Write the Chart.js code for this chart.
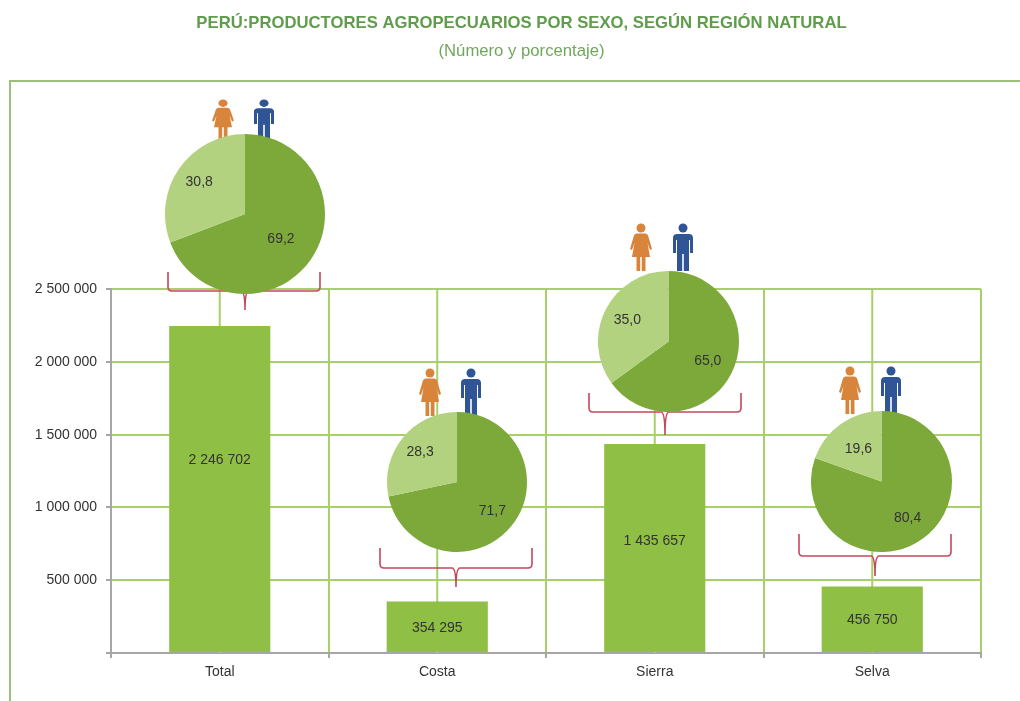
<!DOCTYPE html>
<html lang="es">
<head>
<meta charset="utf-8">
<title>Productores agropecuarios</title>
<script src="https://cdn.jsdelivr.net/npm/chart.js@4/dist/chart.umd.min.js"></script>
<style>
  html, body { margin: 0; padding: 0; background: #fff; overflow: hidden; }
  #page { position: relative; width: 1020px; height: 701px; }
  #frame { position: absolute; left: 9px; top: 80px; right: 0; bottom: 0;
           border-left: 2px solid #9cc07a; border-top: 2px solid #9cc07a; }
  #main { position: absolute; left: 0; top: 0; }
  #overlay { position: absolute; left: 0; top: 0; }
  .pie { position: absolute; }
</style>
</head>
<body>
<div id="page">
  <div id="frame"></div>
  <canvas id="main" width="1020" height="701"></canvas>
  <svg id="overlay" width="1020" height="701" viewBox="0 0 1020 701">
    <defs>
      <symbol id="woman" viewBox="0 0 24 48" preserveAspectRatio="none">
        <circle cx="12" cy="5" r="4.500" fill="#d9843b"/>
        <path d="M8 10.500H16C18 10.500 19 12 19.500 14L23 26L21 27L18.500 20L21 34H16.500V48H12.800V34H11.200V48H7.500V34H3L5.500 20L3 27L1 26L4.500 14C5 12 6 10.500 8 10.500Z" fill="#d9843b"/>
      </symbol>
      <symbol id="man" viewBox="0 0 20 48" preserveAspectRatio="none">
        <circle cx="10" cy="5" r="4.500" fill="#2f5597"/>
        <path d="M4 11H16C18.500 11 20 12.500 20 15V30H17V17H16V48H10.800V31H9.200V48H4V17H3V30H0V15C0 12.500 1.500 11 4 11Z" fill="#2f5597"/>
      </symbol>
    </defs>
  </svg>
</div>
<script>
const categories = ['Total', 'Costa', 'Sierra', 'Selva'];
const productores = [2246702, 354295, 1435657, 456750];
const hombres = [69.2, 71.7, 65.0, 80.4];
const mujeres = [30.8, 28.3, 35.0, 19.6];

const fontName = '"Liberation Sans", Arial, sans-serif';
const gridGreen = '#a8d06a';
const axisGrey = '#a6a6a6';

// where the pies, brackets and figures sit on the page
const pieSpots = [
  { cx: 245, cy: 214, r: 80, labelAt: [0.546, 0.695] },
  { cx: 457, cy: 482, r: 70, labelAt: [0.65, 0.68] },
  { cx: 668, cy: 341, r: 70.5, labelAt: [0.625, 0.655] },
  { cx: 881, cy: 481, r: 70.5, labelAt: [0.64, 0.566] },
];
const braces = [
  { x1: 168, x2: 320, top: 272, mid: 291, tip: 310, center: 245 },
  { x1: 380, x2: 532, top: 548, mid: 568, tip: 587, center: 456 },
  { x1: 589, x2: 741, top: 393, mid: 412, tip: 435, center: 665 },
  { x1: 799, x2: 951, top: 534, mid: 556, tip: 576, center: 875 },
];
const figures = [
  { woman: 223, man: 264, top: 99, h: 40 },
  { woman: 430, man: 471, top: 368, h: 48 },
  { woman: 641, man: 683, top: 223, h: 48 },
  { woman: 850, man: 891, top: 366, h: 48 },
];
// height of the text inside each bar, as a share of the bar
const barLabelAt = [0.59, 0.485, 0.536, 0.495];

function spaced(n) {
  return String(n).replace(/\B(?=(\d{3})+$)/g, ' ');
}

// lines through the middle of each category, behind the bars
const centerLines = {
  id: 'centerLines',
  beforeDatasetsDraw(chart) {
    const { ctx, chartArea, scales } = chart;
    ctx.save();
    ctx.strokeStyle = gridGreen;
    ctx.lineWidth = 2;
    categories.forEach((c, i) => {
      const x = scales.x.getPixelForValue(i);
      ctx.beginPath();
      ctx.moveTo(x, chartArea.top);
      ctx.lineTo(x, chartArea.bottom);
      ctx.stroke();
    });
    ctx.restore();
  },
};

// value inside each bar
const barLabels = {
  id: 'barLabels',
  afterDatasetsDraw(chart) {
    const { ctx, scales } = chart;
    ctx.save();
    ctx.font = '14px ' + fontName;
    ctx.fillStyle = '#333';
    ctx.textAlign = 'center';
    ctx.textBaseline = 'middle';
    productores.forEach((v, i) => {
      ctx.fillText(spaced(v), scales.x.getPixelForValue(i), scales.y.getPixelForValue(v * barLabelAt[i]));
    });
    ctx.restore();
  },
};

// the heading is centred a little right of the canvas middle
const shiftHeading = {
  id: 'shiftHeading',
  afterLayout(chart) {
    chart.boxes.forEach(b => {
      if (b.options && b.options.text !== undefined) {
        b.left += 31;
        b.right += 31;
      }
    });
  },
};

new Chart(document.getElementById('main'), {
  type: 'bar',
  data: {
    labels: categories,
    datasets: [{
      label: 'Productores',
      data: productores,
      backgroundColor: '#8fbf44',
      categoryPercentage: 1,
      barPercentage: 0.465,
    }],
  },
  options: {
    responsive: false,
    animation: false,
    layout: { padding: { left: 0, right: 39, top: 0, bottom: 0 } },
    plugins: {
      legend: { display: false },
      tooltip: { enabled: false },
      title: {
        display: true,
        text: 'PERÚ:PRODUCTORES AGROPECUARIOS POR SEXO, SEGÚN REGIÓN NATURAL',
        color: '#5f9c4b',
        font: { family: fontName, size: 16.7, weight: 'bold' },
        padding: { top: 13, bottom: 0 },
      },
      subtitle: {
        display: true,
        text: '(Número y porcentaje)',
        color: '#6fa85a',
        font: { family: fontName, size: 16.7 },
        padding: { top: 8, bottom: 228 },
      },
    },
    scales: {
      x: {
        afterFit(s) { s.height = 48; },
        grid: { color: gridGreen, lineWidth: 2, tickColor: axisGrey, tickLength: 5, offset: true },
        border: { color: axisGrey, width: 2 },
        ticks: { color: '#333', font: { family: fontName, size: 14 }, padding: 6, maxRotation: 0 },
      },
      y: {
        min: 0,
        max: 2500000,
        afterFit(s) { s.width = 111; },
        grid: { color: gridGreen, lineWidth: 2, tickColor: axisGrey, tickLength: 5 },
        border: { color: axisGrey, width: 2 },
        ticks: {
          stepSize: 500000,
          color: '#333',
          font: { family: fontName, size: 14 },
          padding: 9,
          callback: v => (v === 0 ? '' : spaced(v)),
        },
      },
    },
  },
  plugins: [centerLines, barLabels, shiftHeading],
});

// brackets and figures
const overlay = document.getElementById('overlay');
const svgNS = 'http://www.w3.org/2000/svg';
braces.forEach(b => {
  const p = document.createElementNS(svgNS, 'path');
  p.setAttribute('d', `M${b.x1} ${b.top}V${b.mid - 4}Q${b.x1} ${b.mid} ${b.x1 + 4} ${b.mid}H${b.center - 4}` +
    `Q${b.center} ${b.mid} ${b.center} ${b.tip}Q${b.center} ${b.mid} ${b.center + 4} ${b.mid}H${b.x2 - 4}Q${b.x2} ${b.mid} ${b.x2} ${b.mid - 4}V${b.top}`);
  p.setAttribute('fill', 'none');
  p.setAttribute('stroke', '#c4485c');
  p.setAttribute('stroke-width', '1.600');
  overlay.appendChild(p);
});
figures.forEach(f => {
  [['woman', f.woman, 24], ['man', f.man, 20]].forEach(([name, x, w]) => {
    const u = document.createElementNS(svgNS, 'use');
    u.setAttribute('href', '#' + name);
    u.setAttribute('x', x - w / 2);
    u.setAttribute('y', f.top);
    u.setAttribute('width', w);
    u.setAttribute('height', f.h);
    overlay.appendChild(u);
  });
});

// percentage text on each pie
const pieLabels = {
  id: 'pieLabels',
  afterDatasetsDraw(chart, args, opts) {
    const { ctx } = chart;
    ctx.save();
    ctx.font = '14px ' + fontName;
    ctx.fillStyle = '#333';
    ctx.textAlign = 'center';
    ctx.textBaseline = 'middle';
    chart.getDatasetMeta(0).data.forEach((arc, i) => {
      const a = (arc.startAngle + arc.endAngle) / 2;
      const d = arc.outerRadius * opts.at[i];
      const text = chart.data.datasets[0].data[i].toFixed(1).replace('.', ',');
      ctx.fillText(text, arc.x + Math.cos(a) * d, arc.y + Math.sin(a) * d);
    });
    ctx.restore();
  },
};

categories.forEach((c, i) => {
  const spot = pieSpots[i];
  const canvas = document.createElement('canvas');
  canvas.className = 'pie';
  canvas.width = spot.r * 2;
  canvas.height = spot.r * 2;
  canvas.style.left = (spot.cx - spot.r) + 'px';
  canvas.style.top = (spot.cy - spot.r) + 'px';
  document.getElementById('page').appendChild(canvas);

  new Chart(canvas, {
    type: 'pie',
    data: {
      labels: ['Hombres', 'Mujeres'],
      datasets: [{
        data: [hombres[i], mujeres[i]],
        backgroundColor: ['#7ca93a', '#b2d27f'],
        borderWidth: 0,
      }],
    },
    options: {
      responsive: false,
      animation: false,
      plugins: {
        legend: { display: false },
        tooltip: { enabled: false },
        pieLabels: { at: spot.labelAt },
      },
    },
    plugins: [pieLabels],
  });
});
</script>
</body>
</html>
